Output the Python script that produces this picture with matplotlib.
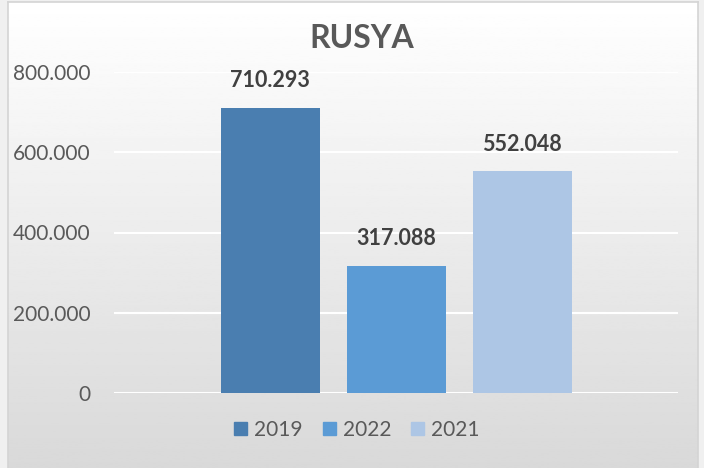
import matplotlib
matplotlib.use('Agg')
import matplotlib.pyplot as plt
from matplotlib.patches import Patch
import numpy as np

plt.rcParams['font.family'] = ['Lato', 'DejaVu Sans']

# data
series = ['2019', '2022', '2021']
values = [710293, 317088, 552048]
colors = ['#4a7eb0', '#5b9bd5', '#adc6e5']

W, H = 704, 468
fig = plt.figure(figsize=(W / 100, H / 100), dpi=100)
fig.patch.set_facecolor('#f0f0f0')

# chart area with vertical gradient
bg = fig.add_axes([8 / W, 0, (698 - 8) / W, 1 - 2 / H])
grad = np.linspace(1.0, 0.85, 256).reshape(-1, 1)
bg.imshow(grad, aspect='auto', cmap='gray', vmin=0, vmax=1, extent=[0, 1, 0, 1])
bg.set_xticks([])
bg.set_yticks([])
for s in bg.spines.values():
    s.set_color('#d4d4d4')
    s.set_linewidth(1.2)
bg.spines['bottom'].set_visible(False)

ax = fig.add_axes([114 / W, 1 - 393 / H, (678 - 114) / W, (393 - 72) / H])
ax.patch.set_alpha(0)

bw = 99 / 564
offsets = [-126 / 564, 0, 126 / 564]
for off, v, c in zip(offsets, values, colors):
    ax.bar(off, v, width=bw, color=c, zorder=3)
    ax.annotate(f'{v:,}'.replace(',', '.'), xy=(off, v), xytext=(0, 19.5),
                textcoords='offset points', ha='center', va='center',
                fontsize=15.5, fontweight='bold', color='#404040')

ax.set_xlim(-0.5, 0.5)
ax.set_ylim(0, 800000)
ax.set_yticks(range(0, 800001, 200000))
ax.set_yticklabels([f'{t:,}'.replace(',', '.') for t in range(0, 800001, 200000)])
ax.set_xticks([])
ax.tick_params(axis='y', length=0, pad=17, labelsize=15, labelcolor='#595959')
ax.grid(axis='y', color='white', linewidth=1.5, zorder=0)
for s in ax.spines.values():
    s.set_visible(False)

fig.text(362 / W, 1 - 38 / H, 'RUSYA', fontsize=23, fontweight='bold',
         color='#595959', ha='center', va='center')

handles = [Patch(color=c, label=s) for s, c in zip(series, colors)]
fig.legend(handles=handles, loc='center', bbox_to_anchor=(357 / W, 1 - 430 / H),
           ncol=3, frameon=False, fontsize=15, labelcolor='#595959',
           handlelength=0.62, handleheight=0.62, handletextpad=0.34,
           columnspacing=0.95)

fig.savefig('out.png', dpi=100, facecolor=fig.get_facecolor())
